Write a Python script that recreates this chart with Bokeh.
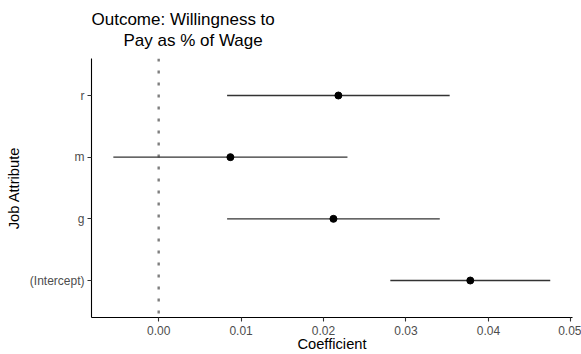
from bokeh.plotting import figure
from bokeh.models import Range1d, FactorRange, FixedTicker, Title, Span, PrintfTickFormatter
from bokeh.embed import file_html
from bokeh.resources import INLINE

# Data
terms = ["(Intercept)", "g", "m", "r"]
estimate = [0.0378, 0.0212, 0.0087, 0.0218]
conf_low = [0.0281, 0.0083, -0.0055, 0.0083]
conf_high = [0.0475, 0.0341, 0.0229, 0.0353]
x_ticks = [0.0, 0.01, 0.02, 0.03, 0.04, 0.05]

title_line1 = "Outcome: Willingness to"
title_line2 = "Pay as % of Wage"
x_label = "Coefficient"
y_label = "Job Attribute"

FONT = "Liberation Sans"

p = figure(
    width=581, height=354,
    x_range=Range1d(-0.00815, 0.0502),
    y_range=FactorRange(factors=terms, range_padding=0.1, range_padding_units="absolute"),
    output_backend="svg", toolbar_location=None,
    min_border_left=91, min_border_right=9, min_border_top=58, min_border_bottom=35,
)
p.title.visible = False
p.outline_line_color = None
p.background_fill_color = "white"
p.border_fill_color = "white"
p.xgrid.visible = False
p.ygrid.visible = False

# Titles (line 2 added first so it sits closest to the frame)
t2 = Title(text=title_line2, align="left", offset=32, standoff=17,
           text_font=FONT, text_font_size="17px", text_font_style="normal", text_color="black")
t1 = Title(text=title_line1, align="left", offset=0, standoff=-17,
           text_font=FONT, text_font_size="17px", text_font_style="normal", text_color="black")
p.add_layout(t2, "above")
p.add_layout(t1, "above")

# Zero reference line
p.add_layout(Span(location=0, dimension="height", line_color="#7f7f7f",
                  line_width=2.4, line_dash="3 9", level="underlay"))

# Point ranges
p.segment(x0=conf_low, y0=terms, x1=conf_high, y1=terms, line_color="#333333", line_width=1.3)
p.scatter(x=estimate, y=terms, size=7, color="black")

for ax in (p.xaxis[0], p.yaxis[0]):
    ax.axis_line_color = "black"
    ax.axis_line_width = 1.1
    ax.major_tick_line_color = "#333333"
    ax.major_tick_line_width = 1.1
    ax.major_tick_out = 4
    ax.major_tick_in = 0
    ax.minor_tick_line_color = None
    ax.major_label_text_color = "#4D4D4D"
    ax.major_label_text_font = FONT
    ax.major_label_text_font_size = "12px"
    ax.axis_label_text_font = FONT
    ax.axis_label_text_font_size = "14.7px"
    ax.axis_label_text_font_style = "normal"
    ax.axis_label_text_color = "black"

p.xaxis.ticker = FixedTicker(ticks=x_ticks)
p.xaxis.formatter = PrintfTickFormatter(format="%.2f")
p.xaxis.axis_label = x_label
p.xaxis.major_label_standoff = 4
p.xaxis.axis_label_standoff = -2
p.yaxis.axis_label = y_label
p.yaxis.major_label_standoff = 3
p.yaxis.axis_label_standoff = 5

open("out.html", "w").write(file_html(p, INLINE))
